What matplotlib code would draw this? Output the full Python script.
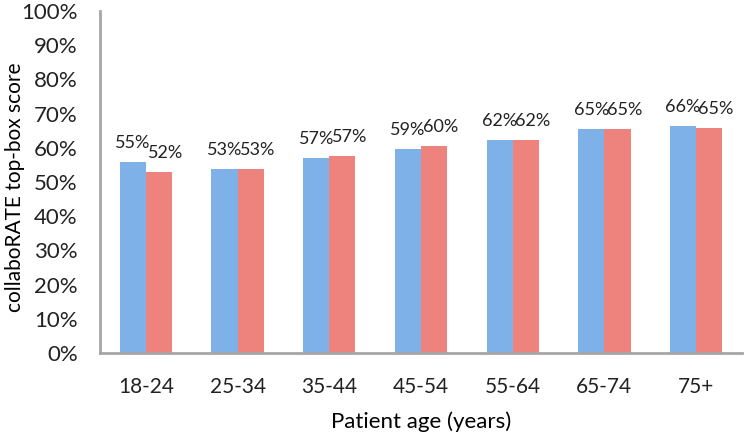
import math
import matplotlib
matplotlib.use("Agg")
import matplotlib.pyplot as plt
import numpy as np

# Werte (Prozent)
age_groups = ['18-24', '25-34', '35-44', '45-54', '55-64', '65-74', '75+']
series_blue = [55.8, 53.9, 57.1, 59.6, 62.3, 65.4, 66.3]
series_red = [52.9, 53.9, 57.7, 60.4, 62.3, 65.6, 65.7]

plt.rcParams['font.family'] = ['Lato', 'DejaVu Sans']

fig = plt.figure(figsize=(7.44, 4.32), dpi=100)
ax = fig.add_axes([100 / 744, 79 / 432, 642 / 744, 342 / 432])

x = np.arange(len(age_groups))
w = 0.285
b1 = ax.bar(x - w / 2, series_blue, w, color='#7eb1e8')
b2 = ax.bar(x + w / 2, series_red, w, color='#ee837e')

# Beschriftungen über den Balken (abgeschnitten auf ganze Prozent)
# rote Beschriftung etwas nach rechts verschoben, wie im Original
for bars, vals, dx in ((b1, series_blue, 0), (b2, series_red, 5)):
    for rect, v in zip(bars, vals):
        ax.annotate(f"{math.floor(v)}%", (rect.get_x() + rect.get_width() / 2, v),
                    xytext=(dx, 8), textcoords='offset points',
                    ha='center', va='bottom', fontsize=13, color='#222222')

ax.set_xlim(-0.5, len(age_groups) - 0.5)
ax.set_ylim(0, 100)
ax.set_yticks(range(0, 101, 10))
ax.set_yticklabels([f"{t}%" for t in range(0, 101, 10)])
ax.set_xticks(x)
ax.set_xticklabels(age_groups)
ax.tick_params(length=0, colors='#222222')
ax.tick_params(axis='y', pad=16, labelsize=16)
ax.tick_params(axis='x', pad=17, labelsize=15)

for s in ('top', 'right'):
    ax.spines[s].set_visible(False)
for s in ('left', 'bottom'):
    ax.spines[s].set_color('#a6a6a6')
    ax.spines[s].set_linewidth(2)

ax.set_xlabel('Patient age (years)', fontsize=16, labelpad=11)
ax.set_ylabel('collaboRATE top-box score', fontsize=15)
ax.yaxis.set_label_coords(-0.117, 0.485)

fig.savefig('out.png', dpi=100)
